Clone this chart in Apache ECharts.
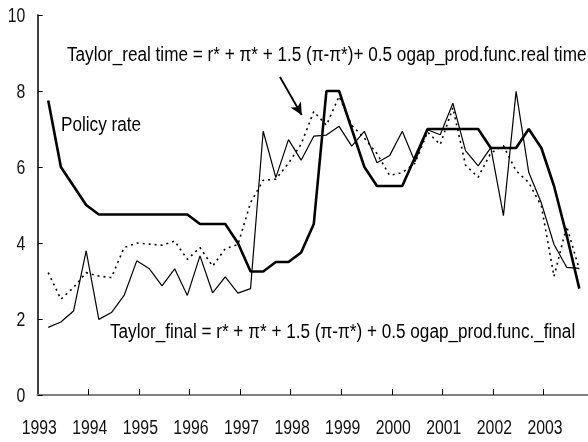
<!DOCTYPE html>
<html>
<head>
<meta charset="utf-8">
<script src="https://cdn.jsdelivr.net/npm/echarts@6/dist/echarts.min.js"></script>
<style>html,body{margin:0;padding:0;background:#fff;}#c{width:588px;height:442px;}</style>
</head>
<body>
<div id="c"></div>
<script>
var quarters = [
 '1993Q1','1993Q2','1993Q3','1993Q4','1994Q1','1994Q2','1994Q3','1994Q4',
 '1995Q1','1995Q2','1995Q3','1995Q4','1996Q1','1996Q2','1996Q3','1996Q4',
 '1997Q1','1997Q2','1997Q3','1997Q4','1998Q1','1998Q2','1998Q3','1998Q4',
 '1999Q1','1999Q2','1999Q3','1999Q4','2000Q1','2000Q2','2000Q3','2000Q4',
 '2001Q1','2001Q2','2001Q3','2001Q4','2002Q1','2002Q2','2002Q3','2002Q4',
 '2003Q1','2003Q2','2003Q3'
];
var policyRate = [7.75,6.0,5.5,5.0,4.75,4.75,4.75,4.75,4.75,4.75,4.75,4.75,4.5,4.5,4.5,4.0,
 3.25,3.25,3.5,3.5,3.75,4.5,8.0,8.0,7.0,6.0,5.5,5.5,5.5,6.25,7.0,7.0,7.0,7.0,7.0,6.5,
 6.5,6.5,7.0,6.5,5.5,4.2,2.8];
var taylorFinal = [1.78,1.92,2.21,3.79,1.99,2.17,2.62,3.53,3.32,2.87,3.32,2.62,3.66,2.69,3.11,2.68,
 2.8,6.94,5.72,6.72,6.18,6.81,6.84,7.07,6.55,6.94,6.11,6.3,6.94,6.14,6.98,6.85,7.68,6.43,6.03,6.51,
 4.72,7.99,5.86,5.05,3.96,3.36,3.33];
var taylorRealTime = [3.22,2.52,2.83,3.22,3.13,3.09,3.88,4.0,3.97,3.94,4.05,3.57,3.88,3.39,3.85,3.96,
 5.06,5.65,5.68,6.1,6.6,7.46,7.1,7.86,7.1,6.76,6.35,5.78,5.85,6.1,6.92,6.59,7.56,6.05,5.73,6.37,
 6.56,5.9,5.59,4.97,3.12,4.44,3.31];
var yearLabels = [1993,1994,1995,1996,1997,1998,1999,2000,2001,2002,2003];
var yTicks = [0,2,4,6,8,10];
var annotations = [
  'Taylor_real time = r* + \u03c0* + 1.5 (\u03c0-\u03c0*)+ 0.5 ogap_prod.func.real time',
  'Policy rate',
  'Taylor_final = r* + \u03c0* + 1.5 (\u03c0-\u03c0*) + 0.5 ogap_prod.func._final'
];

var FONT = '"Liberation Sans",Arial,sans-serif';
var FS = 20, SX = 0.79, SXA = 0.857;

// quarterly observation plotted at middle of the quarter's last month
function qx(q){ var y = parseInt(q.slice(0,4),10), n = parseInt(q.slice(5),10); return y + (3*n - 0.5)/12; }
function pairs(vals){ return vals.map(function(v,i){ return [qx(quarters[i]), v]; }); }

var chart = echarts.init(document.getElementById('c'), null, {renderer:'canvas'});
var xMin = 1993, xMax = 2003.88;
chart.setOption({
  animation:false,
  backgroundColor:'#fff',
  grid:{left:37.7, right:0, top:15, bottom:47, containLabel:false},
  xAxis:[{
    type:'value', min:xMin, max:xMax, interval:1,
    axisLine:{show:true, onZero:false, lineStyle:{color:'#000', width:2}},
    axisTick:{show:true, inside:true, length:6, lineStyle:{color:'#000', width:1}, customValues:yearLabels.slice(1)},
    axisLabel:{show:false},
    splitLine:{show:false}
  },{
    type:'value', position:'top', min:xMin, max:xMax,
    axisLine:{show:true, lineStyle:{color:'#808080', width:2}},
    axisTick:{show:false}, axisLabel:{show:false}, splitLine:{show:false}
  }],
  yAxis:{
    type:'value', min:0, max:10, interval:2,
    axisLine:{show:true, lineStyle:{color:'#000', width:1.5}},
    axisTick:{show:true, inside:true, length:5, lineStyle:{color:'#000', width:1}},
    axisLabel:{show:false},
    splitLine:{show:false}
  },
  series:[
    {name:'Taylor_real time', type:'line', data:pairs(taylorRealTime), showSymbol:false, symbol:'none',
     lineStyle:{color:'#000', width:1.6, type:[2,4]}, z:2,
     markLine:{silent:true, symbol:['none','arrow'], symbolSize:[9,12], label:{show:false},
       lineStyle:{color:'#000', width:1.8, type:'solid'},
       data:[[{coord:[1997.79,8.37]},{coord:[1998.22,7.37]}]]}},
    {name:'Taylor_final', type:'line', data:pairs(taylorFinal), showSymbol:false, symbol:'none',
     lineStyle:{color:'#000', width:1.2}, z:3},
    {name:'Policy rate', type:'line', data:pairs(policyRate), showSymbol:false, symbol:'none',
     lineStyle:{color:'#000', width:2.6}, z:4}
  ]
});

// axis labels in a condensed face (scaled text), positioned through the axes' own scales
var gfx = [];
var axisY = chart.convertToPixel({yAxisIndex:0}, 0);
var axisX = chart.convertToPixel({xAxisIndex:0}, xMin);
yearLabels.forEach(function(yr){
  gfx.push({type:'text', x:chart.convertToPixel({xAxisIndex:0}, yr) + 1.5, y:axisY + 23, scaleX:SX,
    style:{text:String(yr), fill:'#111', font:FS+'px '+FONT, textAlign:'center', textVerticalAlign:'top'}});
});
yTicks.forEach(function(v){
  gfx.push({type:'text', x:axisX - 12.5, y:chart.convertToPixel({yAxisIndex:0}, v) + 1, scaleX:SX,
    style:{text:String(v), fill:'#111', font:FS+'px '+FONT, textAlign:'right', textVerticalAlign:'middle'}});
});
gfx.push({type:'text', x:67, y:45, scaleX:SXA, style:{text:annotations[0], fill:'#000', font:FS+'px '+FONT}});
gfx.push({type:'text', x:61, y:115, scaleX:SXA, style:{text:annotations[1], fill:'#000', font:FS+'px '+FONT}});
gfx.push({type:'text', x:110, y:322, scaleX:SXA, style:{text:annotations[2], fill:'#000', font:FS+'px '+FONT}});
chart.setOption({graphic:gfx});
</script>
</body>
</html>
